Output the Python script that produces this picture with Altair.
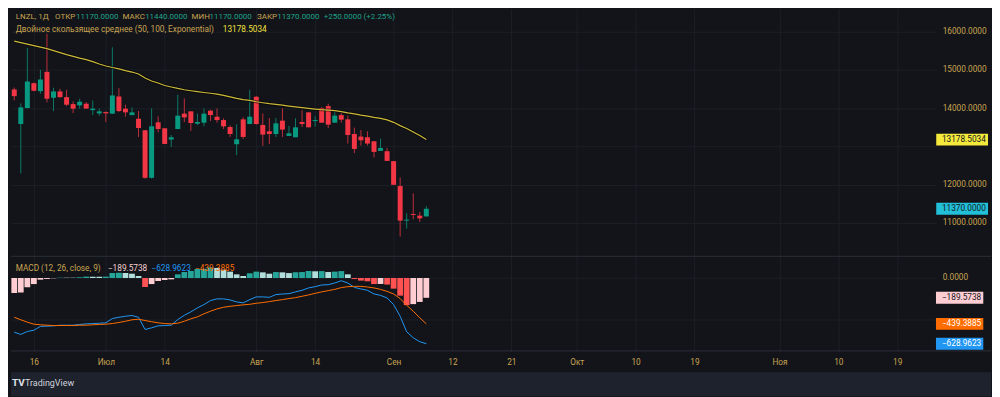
import json
import altair as alt
import pandas as pd

# ---------------- data ----------------
opens = [14490, 13586, 14003, 14654, 14445, 14950, 14273, 14438, 14289, 14107,
         14073, 14117, 13951, 13865, 13899, 13857, 14307, 13987, 13820, 13727,
         13422, 12180, 13630, 13474, 13180, 13456, 13857, 13917, 13595, 13621,
         13935, 13777, 13690, 13508, 13057, 13708, 13586, 14299, 13560, 13396,
         13325, 13674, 13274, 13240, 13638, 13891, 13664, 14003, 14055, 13621,
         13820, 13708, 13326, 13258, 13240, 13135, 12883, 12875, 12615, 11964,
         11060, 11234, 11190, 11170]
highs = [14542, 14125, 15576, 14672, 15003, 15948, 14534, 14508, 14482, 14177,
         14247, 14160, 14203, 13987, 13917, 15591, 14524, 14091, 14021, 13925,
         13430, 13995, 13786, 13480, 13300, 14352, 14255, 13920, 13857, 13995,
         13961, 13995, 13734, 13552, 13578, 13760, 14482, 14315, 13865, 13743,
         13743, 13995, 13534, 13734, 13943, 13895, 13786, 14030, 14117, 13899,
         13872, 13805, 13492, 13430, 13396, 13140, 13206, 12961, 12620, 12190,
         11253, 11774, 11286, 11440]
lows = [14203, 12294, 13995, 14437, 14378, 14151, 13925, 14273, 14055, 13872,
        13987, 13987, 13820, 13804, 13638, 13847, 13899, 13777, 13815, 13247,
        12154, 12160, 13370, 13060, 12987, 13450, 13638, 13404, 13560, 13526,
        13664, 13621, 13456, 13248, 12771, 13196, 13580, 13570, 13013, 13065,
        13248, 13248, 13274, 13240, 13508, 13500, 13517, 13612, 13482, 13621,
        13621, 13075, 12823, 13023, 13023, 12711, 12880, 12620, 11997, 10643,
        10852, 11096, 11026, 11170]
closes = [14315, 14021, 14698, 14456, 14750, 14247, 14438, 14289, 14091, 13987,
          14169, 13990, 13987, 13917, 13865, 14333, 13925, 13891, 13891, 13482,
          12180, 13526, 13456, 13065, 13240, 13805, 13760, 13612, 13638, 13857,
          13820, 13690, 13525, 13325, 13187, 13248, 13778, 13586, 13310, 13325,
          13604, 13440, 13344, 13500, 13586, 13500, 13690, 13621, 13570, 13805,
          13700, 13300, 12935, 13161, 13075, 12857, 12961, 12622, 11997, 11060,
          11086, 11208, 11120, 11370]
dema = [15753, 15714, 15674, 15635, 15596, 15557, 15505, 15453, 15401, 15354,
        15310, 15271, 15219, 15154, 15102, 15063, 15029, 14984, 14945, 14893,
        14789, 14711, 14659, 14594, 14555, 14516, 14482, 14456, 14432, 14411,
        14391, 14367, 14333, 14294, 14255, 14224, 14203, 14169, 14143, 14117,
        14099, 14078, 14055, 14034, 14013, 13995, 13977, 13961, 13951, 13935,
        13912, 13878, 13852, 13820, 13792, 13760, 13734, 13695, 13630, 13544,
        13468, 13377, 13286, 13178.5034]
macd = [-519, -540, -512, -500, -464, -461, -458, -452, -452, -452,
        -445, -439, -436, -433, -429, -388, -376, -366, -359, -376,
        -493, -477, -458, -455, -452, -398, -357, -324, -286, -255,
        -216, -200, -200, -210, -229, -238, -207, -181, -181, -185,
        -159, -153, -150, -133, -118, -95, -83, -67, -64, -48,
        -26, -48, -90, -105, -118, -153, -166, -191, -255, -366,
        -515, -572, -610, -628.9623]
signal = [-376, -400, -423, -442, -448, -452, -455, -455, -455, -455,
          -452, -452, -448, -445, -442, -436, -426, -414, -400, -395,
          -407, -419, -429, -436, -439, -433, -414, -391, -372, -343,
          -318, -296, -280, -271, -264, -257, -252, -242, -235, -226,
          -216, -207, -197, -188, -175, -162, -147, -133, -121, -109,
          -92, -83, -80, -80, -86, -95, -109, -128, -153, -197,
          -261, -318, -381, -439.3885]
hist = [-143, -140, -89, -58, -16, -9, -3, 3, 3, 3,
        7, 13, 12, 12, 13, 48, 50, 48, 41, 19,
        -86, -58, -29, -19, -13, 35, 57, 67, 86, 88,
        102, 96, 80, 61, 35, 19, 45, 61, 54, 41,
        57, 54, 47, 55, 57, 67, 64, 66, 57, 61,
        66, 35, -10, -25, -32, -58, -57, -63, -102, -169,
        -260, -250, -229, -189.5738]

tick_idx = [3, 14, 23, 37, 46, 58, 67, 76, 86, 95, 104, 117, 126, 135]
tick_lbl = ["16", "Июл", "14", "Авг", "14", "Сен", "12", "21", "Окт", "10", "19", "Ноя", "10", "19"]
price_ticks = [11000, 12000, 13000, 14000, 15000, 16000]
macd_ticks = [-400, 0]

price_box_vals = [13178.5034, 11370.0]
macd_box_vals = [-189.5738, -439.3885, -628.9623]

# ---------------- styles ----------------
BG = "#121419"
NAVY = "#1e222d"
GRID = "#1c1f27"
SEP = "#2a2e39"
GOLD = "#c9a452"
TEAL_TXT = "#1fa38a"
UP = "#089981"
DN = "#f23645"
UP_WICK = "#0b7a66"
DN_WICK = "#c02d3a"
DEMA_C = "#cdb93a"
FONT = "Roboto"
FS = 8.3
LFS = 8.0

W = 929
H1 = 248
H2 = 96
XDOM = [-0.5, 140.96]
PDOM = [10141, 16599]
MDOM = [-702.6, 212.6]

n = len(opens)
df = pd.DataFrame({"i": list(range(n)), "open": opens, "high": highs, "low": lows,
                   "close": closes, "dema": dema, "macd": macd, "signal": signal,
                   "hist": hist})
df["dir"] = ["up" if c >= o else "down" for o, c in zip(opens, closes)]
cats = []
for k, h in enumerate(hist):
    prev = hist[k - 1] if k > 0 else h - 1
    if h >= 0:
        cats.append("ug" if h > prev else "uf")
    else:
        cats.append("dg" if h > prev else "df")
df["hcat"] = cats

label_expr = "%s[indexof(%s, datum.value)]" % (json.dumps(tick_lbl, ensure_ascii=False), json.dumps(tick_idx))
# labels hidden behind the value boxes in the reference are left blank
p_label_expr = "datum.value == 13000 ? '' : format(datum.value, '.4f')"
m_label_expr = "datum.value == -400 ? '' : format(datum.value, '.4f')"

xscale = alt.Scale(domain=XDOM, nice=False, zero=False, padding=0)
x_grid_axis = alt.Axis(values=tick_idx, grid=True, gridColor=GRID, labels=False, ticks=False,
                       domain=False, title=None, minExtent=0, maxExtent=0)
x_bottom_axis = alt.Axis(values=tick_idx, grid=True, gridColor=GRID, labels=True, ticks=False,
                         domain=False, title=None, labelExpr=label_expr, labelColor=GOLD,
                         labelFont=FONT, labelFontSize=FS, labelPadding=6, labelOverlap=False,
                         labelFlush=False, minExtent=21, maxExtent=21)
pscale = alt.Scale(domain=PDOM, nice=False, zero=False, padding=0)
p_axis = alt.Axis(orient="right", values=price_ticks, labelExpr=p_label_expr, grid=True, gridColor=GRID,
                  ticks=False, domain=False, labelColor=GOLD, labelFont=FONT, labelFontSize=FS,
                  labelPadding=6, title=None, minExtent=55, maxExtent=55)
mscale = alt.Scale(domain=MDOM, nice=False, zero=False, padding=0)
m_axis = alt.Axis(orient="right", values=macd_ticks, labelExpr=m_label_expr, grid=True, gridColor=GRID,
                  ticks=False, domain=False, labelColor=GOLD, labelFont=FONT, labelFontSize=FS,
                  labelPadding=6, title=None, minExtent=55, maxExtent=55)


def X1():
    return alt.X("i:Q", scale=xscale, axis=x_grid_axis)


def X2():
    return alt.X("i:Q", scale=xscale, axis=x_bottom_axis)


def PY(f):
    return alt.Y(f, type="quantitative", scale=pscale, axis=p_axis)


def MY(f):
    return alt.Y(f, type="quantitative", scale=mscale, axis=m_axis)


ONE = alt.Data(values=[{}])


def txt(s, x, y, color, size=FS, weight="normal", align="left", font=FONT):
    return alt.Chart(ONE).mark_text(text=s, color=color, font=font, fontSize=size,
                                    fontWeight=weight, align=align, baseline="middle").encode(
        x=alt.value(x), y=alt.value(y))


base = alt.Chart(df)

wicks = base.mark_rule(strokeWidth=1).encode(
    x=X1(), y=PY("low"), y2="high",
    color=alt.condition(alt.datum.dir == "up", alt.value(UP_WICK), alt.value(DN_WICK)))
bodies = base.mark_bar(size=5).encode(
    x=X1(), y=PY("open"), y2="close",
    color=alt.condition(alt.datum.dir == "up", alt.value(UP), alt.value(DN)))
dema_shadow = base.mark_line(color="#000000", strokeWidth=3, opacity=0.55).encode(x=X1(), y=PY("dema"))
dema_line = base.mark_line(color=DEMA_C, strokeWidth=1.2).encode(x=X1(), y=PY("dema"))

pbox = pd.DataFrame({"val": price_box_vals, "fill": ["#f5e93b", "#22bfd8"]})
pboxes = alt.Chart(pbox).mark_tick(orient="horizontal", size=52, thickness=12, opacity=1).encode(
    x=alt.value(955), y=PY("val"), color=alt.Color("fill:N", scale=None))
pbox_txt = alt.Chart(pbox).mark_text(align="left", baseline="middle", font=FONT, fontSize=FS,
                                     color="#131722").encode(
    x=alt.value(934.7), y=PY("val"), text=alt.Text("val:Q", format=".4f"))

legend1 = [
    txt("LNZL, 1Д", 4.7, 8.7, GOLD, size=LFS),
    txt("ОТКР", 44.3, 8.7, GOLD, size=LFS), txt("11170.0000", 65.3, 8.7, TEAL_TXT, size=LFS),
    txt("МАКС", 112, 8.7, GOLD, size=LFS), txt("11440.0000", 134.7, 8.7, TEAL_TXT, size=LFS),
    txt("МИН", 181.3, 8.7, GOLD, size=LFS), txt("11170.0000", 199.3, 8.7, TEAL_TXT, size=LFS),
    txt("ЗАКР", 247, 8.7, GOLD, size=LFS), txt("11370.0000", 267.3, 8.7, TEAL_TXT, size=LFS),
    txt("+250.0000 (+2.25%)", 314, 8.7, TEAL_TXT, size=LFS),
    txt("Двойное скользящее среднее (50, 100, Exponential)", 4.7, 21.3, GOLD),
    txt("13178.5034", 212.7, 21.3, "#f2e23e"),
]

price_panel = alt.layer(wicks, bodies, dema_shadow, dema_line, pboxes, pbox_txt, *legend1).properties(
    width=W, height=H1)

# ---------------- MACD panel ----------------
hbars = base.mark_bar(size=5.8).encode(
    x=X2(), y=MY("hist"), y2=alt.datum(0),
    color=alt.Color("hcat:N", scale=alt.Scale(domain=["ug", "uf", "dg", "df"],
                                              range=["#26a69a", "#b2dfdb", "#ffcdd2", "#ff5252"]),
                    legend=None))
macd_line = base.mark_line(color="#2196f3", strokeWidth=1).encode(x=X2(), y=MY("macd"))
sig_line = base.mark_line(color="#ff6d00", strokeWidth=1).encode(x=X2(), y=MY("signal"))

mbox = pd.DataFrame({"val": macd_box_vals, "fill": ["#ffcdd2", "#ff6d00", "#2196f3"],
                     "tc": ["#131722", "#ffffff", "#ffffff"]})
mboxes = alt.Chart(mbox).mark_tick(orient="horizontal", size=47.5, thickness=12, opacity=1).encode(
    x=alt.value(952.5), y=MY("val"), color=alt.Color("fill:N", scale=None))
mbox_txt = alt.Chart(mbox).mark_text(align="left", baseline="middle", font=FONT, fontSize=FS).encode(
    x=alt.value(934.7), y=MY("val"), text=alt.Text("val:Q", format=".4f"),
    color=alt.Color("tc:N", scale=None))

sep_top = alt.Chart(ONE).mark_rule(color=SEP, strokeWidth=1).encode(
    x=alt.value(0), x2=alt.value(984), y=alt.value(0.5))
sep_bot = alt.Chart(ONE).mark_rule(color=SEP, strokeWidth=1).encode(
    x=alt.value(0), x2=alt.value(984), y=alt.value(H2 - 0.5))

legend2 = [
    txt("MACD (12, 26, close, 9)", 4.7, 13, GOLD),
    txt("−189.5738", 97.3, 13, "#f6d2d2"),
    txt("−628.9623", 141, 13, "#2196f3"),
    txt("−439.3885", 184.7, 13, "#ff6d00"),
]

macd_panel = alt.layer(hbars, macd_line, sig_line, mboxes, mbox_txt, sep_top, sep_bot, *legend2).properties(
    width=W, height=H2)

# ---------------- bottom strip ----------------
strip = alt.Chart(ONE).mark_rect(color=NAVY).encode(
    x=alt.value(0), x2=alt.value(984), y=alt.value(0), y2=alt.value(24))
logo = txt("TV", 1, 10.5, "#e0e3eb", size=10, weight="bold")
brand = txt("TradingView", 14, 10.5, "#d1d4dc", size=9)
bottom = alt.layer(strip, logo, brand).properties(width=984, height=24)

chart = alt.vconcat(price_panel, macd_panel, bottom, spacing=0).properties(
    padding=0, background=BG).configure_view(stroke=None).configure_concat(spacing=0)

chart.save("out.html", embed_options={"renderer": "svg", "actions": False})
